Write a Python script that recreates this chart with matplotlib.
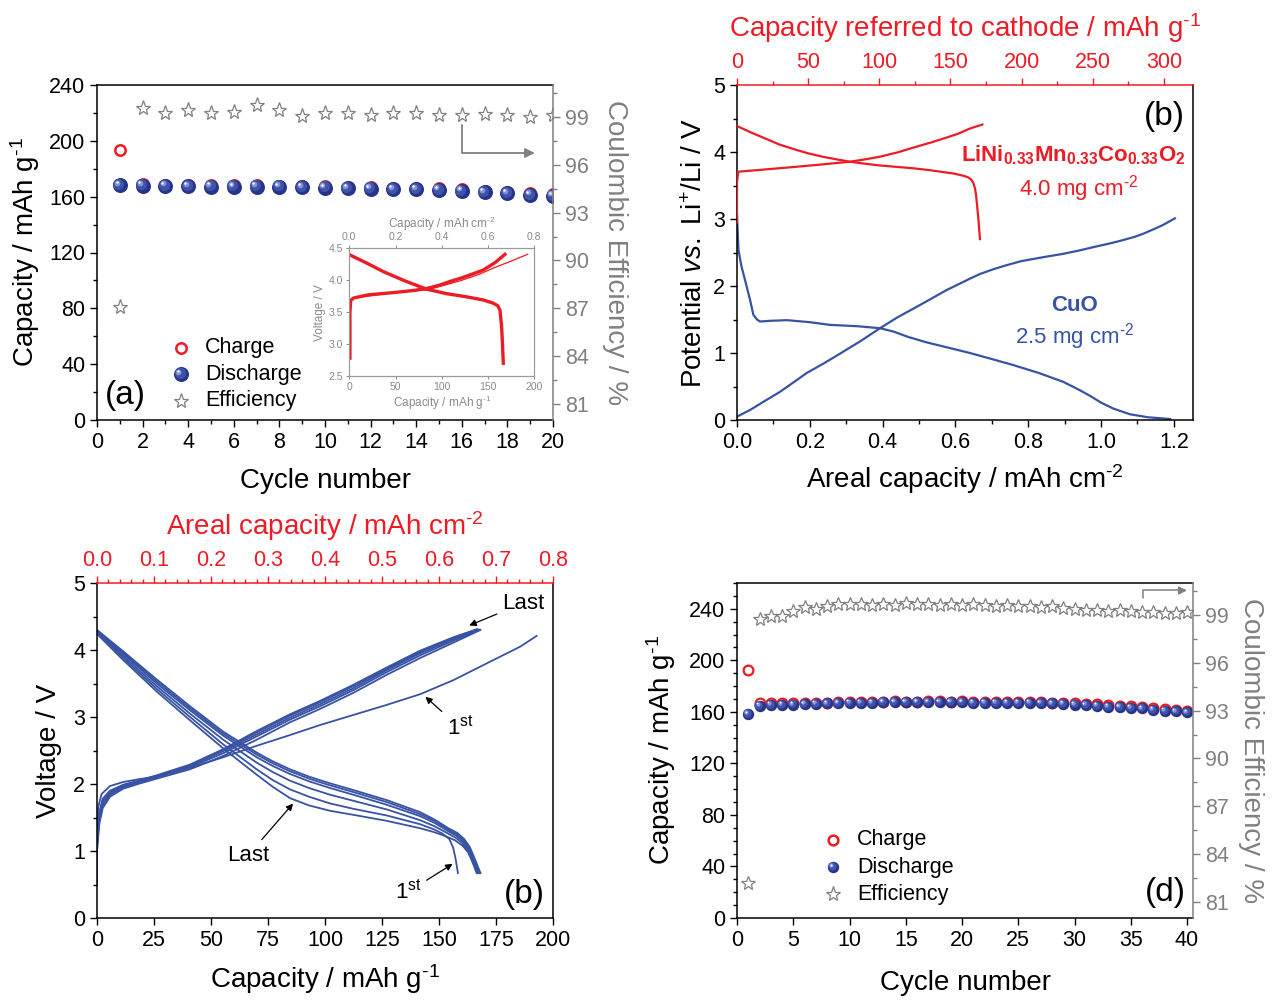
import matplotlib
matplotlib.use("Agg")
import matplotlib.pyplot as plt
from matplotlib.ticker import MultipleLocator
from matplotlib.transforms import offset_copy

plt.rcParams['font.family'] = ['Liberation Sans', 'DejaVu Sans']
plt.rcParams['mathtext.fontset'] = 'custom'
plt.rcParams['mathtext.rm'] = 'Liberation Sans'
plt.rcParams['mathtext.it'] = 'Liberation Sans:italic'
plt.rcParams['mathtext.bf'] = 'Liberation Sans:bold'

# ---------------- data ----------------
# (a) cycling of the NMC half cell, 20 cycles
cycles_a = list(range(1, 21))
charge_a = [193.2, 168.9, 168.7, 168.5, 168.2, 168.1, 168.1, 168.0, 167.7, 167.4,
            167.1, 166.8, 166.5, 166.3, 165.9, 165.2, 164.3, 163.5, 162.5, 161.6]
discharge_a = [168.1, 168.0, 167.7, 167.5, 167.2, 167.1, 167.2, 167.1, 166.7, 166.4,
               166.0, 165.7, 165.4, 165.2, 164.8, 164.1, 163.2, 162.4, 161.3, 160.5]
eff_a = [87.06, 99.58, 99.27, 99.42, 99.27, 99.33, 99.75, 99.42, 99.06, 99.27,
         99.23, 99.12, 99.23, 99.23, 99.12, 99.12, 99.17, 99.12, 99.0, 99.12]

# (a) inset: NMC voltage profiles
ins_ch_cap = [0.7, 0.7, 1.5, 4.3, 20, 47.6, 70, 83.6, 97, 108.8, 120, 130, 144.9, 158, 168.3]
ins_ch_v = [2.78, 3.5, 3.68, 3.72, 3.77, 3.806, 3.84, 3.87, 3.92, 3.98, 4.03, 4.08, 4.16, 4.28, 4.406]
ins_ch1_cap = [0.7, 0.7, 4.3, 47.6, 83.6, 100, 119.6, 140, 155.7, 175, 192.8]
ins_ch1_v = [2.78, 3.68, 3.72, 3.806, 3.85, 3.91, 3.99, 4.09, 4.19, 4.30, 4.406]
ins_dis_cap = [0.7, 20, 36.8, 60, 83.6, 105, 126.8, 145, 155.7, 160.5, 162.9, 164.7, 165.6, 166.5]
ins_dis_v = [4.396, 4.26, 4.135, 3.99, 3.86, 3.79, 3.74, 3.69, 3.64, 3.60, 3.53, 3.27, 3.0, 2.70]

# (b) electrode profiles
nmc_ch_cap = [0, 0, 0.9, 20, 41.9, 60, 79.4, 90, 100.5, 113, 126.2, 136, 145, 155, 163.7, 172.4]
nmc_ch_v = [2.95, 3.55, 3.706, 3.74, 3.78, 3.815, 3.855, 3.89, 3.93, 3.995, 4.08, 4.14, 4.2, 4.27, 4.35, 4.41]
nmc_dis_cap = [0, 10, 20, 30, 41.9, 50, 60, 70, 79.4, 90, 100, 112, 123.9, 135, 145, 152, 156.7,
               160, 162.5, 164.5, 166, 167.2, 168, 168.8, 169.8, 170.7]
nmc_dis_v = [4.388, 4.29, 4.20, 4.11, 4.03, 3.98, 3.93, 3.89, 3.855, 3.825, 3.80, 3.778, 3.757, 3.73,
             3.70, 3.68, 3.657, 3.64, 3.62, 3.59, 3.54, 3.46, 3.35, 3.18, 2.95, 2.70]
cuo_lith_cap = [0, 0.004, 0.012, 0.022, 0.036, 0.045, 0.055, 0.063, 0.09, 0.137, 0.2, 0.255, 0.33,
                0.393, 0.43, 0.47, 0.52, 0.58, 0.64, 0.70, 0.759, 0.83, 0.896, 0.94, 0.97, 1.0,
                1.034, 1.08, 1.13, 1.19]
cuo_lith_v = [3.06, 2.54, 2.30, 2.09, 1.79, 1.57, 1.50, 1.47, 1.48, 1.49, 1.46, 1.42, 1.40,
              1.37, 1.32, 1.24, 1.16, 1.08, 1.0, 0.91, 0.82, 0.70, 0.57, 0.45, 0.36, 0.26,
              0.17, 0.085, 0.04, 0.015]
cuo_delith_cap = [0, 0.036, 0.072, 0.118, 0.16, 0.191, 0.24, 0.283, 0.34, 0.393, 0.44, 0.494, 0.54,
                  0.576, 0.61, 0.64, 0.668, 0.704, 0.74, 0.78, 0.841, 0.896, 0.94, 0.979, 1.02,
                  1.05, 1.09, 1.116, 1.15, 1.17, 1.203]
cuo_delith_v = [0.05, 0.15, 0.27, 0.42, 0.58, 0.70, 0.85, 0.99, 1.18, 1.37, 1.53, 1.69, 1.83,
                1.94, 2.03, 2.11, 2.18, 2.25, 2.31, 2.37, 2.43, 2.48, 2.53, 2.58, 2.63,
                2.67, 2.73, 2.78, 2.86, 2.91, 3.01]

# (c) full cell profiles
dis_grid = [0, 11.5, 26.2, 40.8, 55.4, 70, 77, 84.6, 93, 102.2, 112.4, 127.1, 141.7, 148]
dis_curves = [
    ([4.30, 3.98, 3.56, 3.16, 2.78, 2.47, 2.34, 2.22, 2.11, 2.01, 1.91, 1.76, 1.58, 1.47],
     [154.1, 158, 161, 163.5, 165.5, 168.2], [1.34, 1.27, 1.18, 1.06, 0.90, 0.67]),
    ([4.29, 3.96, 3.53, 3.13, 2.75, 2.44, 2.31, 2.19, 2.08, 1.98, 1.88, 1.73, 1.55, 1.45],
     [154, 157.8, 160.8, 163.2, 165.2, 167.8], [1.32, 1.25, 1.16, 1.04, 0.88, 0.67]),
    ([4.28, 3.94, 3.50, 3.10, 2.72, 2.40, 2.27, 2.15, 2.04, 1.94, 1.84, 1.69, 1.52, 1.42],
     [153.8, 157.5, 160.5, 163, 165, 167.4], [1.30, 1.23, 1.14, 1.02, 0.86, 0.67]),
    ([4.27, 3.91, 3.46, 3.05, 2.66, 2.32, 2.18, 2.05, 1.94, 1.84, 1.75, 1.62, 1.46, 1.37],
     [153.5, 157.2, 160.2, 162.7, 164.8, 167], [1.27, 1.20, 1.12, 1.00, 0.85, 0.67]),
    ([4.26, 3.88, 3.42, 3.00, 2.59, 2.22, 2.06, 1.92, 1.81, 1.71, 1.63, 1.53, 1.40, 1.32],
     [151.5, 154.5, 156.2, 157.3, 158.3], [1.26, 1.18, 1.05, 0.88, 0.67]),
    ([4.24, 3.85, 3.38, 2.95, 2.53, 2.14, 1.96, 1.79, 1.68, 1.60, 1.54, 1.45, 1.34, 1.28],
     [153, 157, 160.3, 162.8, 164.6, 166.5], [1.22, 1.16, 1.08, 0.98, 0.84, 0.67]),
]
ch_grid = [0, 0, 1, 2.5, 5.7, 11.5, 18, 26.2, 40.8, 55.4, 70, 84.6, 97.8, 112.4, 127.1, 141.7, 156.3]
ch_curves = [
    ([0.50, 1.00, 1.40, 1.64, 1.81, 1.93, 2.00, 2.08, 2.22, 2.42, 2.66, 2.92, 3.12, 3.36, 3.63, 3.88, 4.11], 168.2, 4.30),
    ([0.55, 1.05, 1.45, 1.68, 1.84, 1.95, 2.02, 2.10, 2.25, 2.46, 2.71, 2.96, 3.16, 3.40, 3.67, 3.92, 4.14], 167.8, 4.30),
    ([0.60, 1.10, 1.50, 1.72, 1.86, 1.97, 2.03, 2.11, 2.27, 2.49, 2.74, 2.99, 3.19, 3.43, 3.70, 3.95, 4.16], 167.4, 4.30),
    ([0.65, 1.15, 1.54, 1.75, 1.88, 1.98, 2.04, 2.12, 2.28, 2.51, 2.77, 3.02, 3.22, 3.46, 3.72, 3.97, 4.18], 167.0, 4.31),
    ([0.70, 1.20, 1.58, 1.78, 1.90, 1.99, 2.05, 2.13, 2.29, 2.52, 2.79, 3.04, 3.24, 3.48, 3.74, 3.99, 4.19], 166.6, 4.31),
]
ch1_cap = [0, 0, 0.5, 2, 5.7, 11.5, 18, 26.2, 40.8, 55.4, 70, 84.6, 97.8, 112.4, 127, 141.7, 156.3, 170.9, 185.6, 192.8]
ch1_v = [0.49, 1.30, 1.65, 1.85, 1.97, 2.03, 2.07, 2.11, 2.24, 2.40, 2.57, 2.73, 2.88, 3.03, 3.18, 3.34, 3.55, 3.80, 4.05, 4.21]

# (d) full cell cycling, 40 cycles
cycles_d = list(range(1, 41))
discharge_d = [158.2, 164.9, 165.4, 165.4, 165.7, 166.0, 166.2, 166.5, 166.7, 167.0,
               167.2, 167.2, 167.5, 167.5, 167.5, 167.5, 167.5, 167.5, 167.5, 167.5,
               167.2, 167.2, 167.2, 167.2, 167.2, 167.0, 166.7, 166.5, 166.2, 165.7,
               165.2, 164.7, 164.1, 163.6, 163.1, 162.6, 161.8, 161.0, 160.3, 159.5]
charge_d = [192.6, 167.0, 167.0, 166.9, 166.9, 166.9, 167.0, 167.2, 167.3, 167.6,
            167.8, 167.8, 168.0, 168.1, 168.0, 168.0, 168.1, 168.1, 168.0, 168.1,
            167.8, 167.8, 167.9, 167.8, 167.9, 167.7, 167.5, 167.2, 167.1, 166.8,
            166.4, 165.9, 165.4, 164.8, 164.4, 163.9, 163.1, 162.4, 161.7, 160.8]
eff_d = [82.2, 98.73, 98.94, 98.94, 99.25, 99.5, 99.35, 99.56, 99.71, 99.67,
         99.67, 99.63, 99.67, 99.63, 99.75, 99.67, 99.67, 99.63, 99.67, 99.63,
         99.67, 99.63, 99.56, 99.63, 99.56, 99.56, 99.5, 99.56, 99.46, 99.35,
         99.29, 99.29, 99.25, 99.29, 99.25, 99.21, 99.21, 99.15, 99.15, 99.21]

# ---------------- styling ----------------
W, H = 1276, 1001
RED = '#ed1c24'
BLUE = '#3953a4'
GRAY = '#808080'
TICK_FS = 15.5
LAB_FS = 20
G1 = '$^{\\text{-1}}$'
CM2 = '$^{\\text{-2}}$'


def box(l, t, r, b):
    return [l / W, 1 - b / H, (r - l) / W, (b - t) / H]


def base_style(ax):
    for s in ax.spines.values():
        s.set_linewidth(1.1)
    ax.tick_params(which='both', direction='out', width=1.0, labelsize=TICK_FS, top=False, right=False)
    ax.tick_params(which='major', length=5)
    ax.tick_params(which='minor', length=3)


def red_top(ax_t):
    for s in ['left', 'right', 'bottom']:
        ax_t.spines[s].set_visible(False)
    ax_t.spines['top'].set_color(RED)
    ax_t.spines['top'].set_linewidth(1.1)
    ax_t.tick_params(which='both', direction='out', colors=RED, labelsize=TICK_FS, width=1.0)
    ax_t.tick_params(which='major', length=5)
    ax_t.tick_params(which='minor', length=3)


def balls(ax, x, y, ms, transform=None):
    fig = ax.figure
    base = transform if transform is not None else ax.transData
    layers = [(1.0, '#26348a', 0.0), (0.74, '#3f53aa', 0.09), (0.38, '#8593d2', 0.17), (0.16, 'white', 0.21)]
    for k, (f, c, off) in enumerate(layers):
        tr = offset_copy(base, fig=fig, x=-ms * off, y=ms * off, units='points')
        ax.plot(x, y, 'o', ms=ms * f, color=c, mec='none', ls='none', transform=tr,
                zorder=4 + k, clip_on=transform is None)


def cycle_panel(ax, ax2, pad):
    ax.spines['right'].set_visible(False)
    for s in ['left', 'top', 'bottom']:
        ax2.spines[s].set_visible(False)
    ax2.spines['right'].set_color(GRAY)
    ax2.spines['right'].set_linewidth(1.1)
    ax2.tick_params(axis='y', which='both', direction='out', colors=GRAY, labelsize=TICK_FS, width=1.0)
    ax2.tick_params(which='major', length=5)
    ax2.tick_params(which='minor', length=3)
    ax2.set_ylim(80, 101)
    ax2.set_yticks([81, 84, 87, 90, 93, 96, 99])
    ax2.yaxis.set_minor_locator(MultipleLocator(1.5))
    ax2.set_ylabel('Coulombic Efficiency / %', color=GRAY, fontsize=LAB_FS, rotation=270, labelpad=pad)


def manual_legend(ax, x_m, x_t, ys, ms_ball, ms_circ):
    ax.plot([x_m], [ys[0]], 'o', ms=ms_circ, mfc='none', mec=RED, mew=1.8, transform=ax.transAxes)
    balls(ax, [x_m], [ys[1]], ms_ball, transform=ax.transAxes)
    ax.plot([x_m], [ys[2]], '*', ms=11, mfc='none', mec=GRAY, mew=0.9, transform=ax.transAxes)
    for y, t in zip(ys, ['Charge', 'Discharge', 'Efficiency']):
        ax.text(x_t, y, t, transform=ax.transAxes, fontsize=15.5, va='center', ha='left')


fig = plt.figure(figsize=(12.76, 10.01), dpi=100)

# ---------------- (a) ----------------
ax_a = fig.add_axes(box(97, 85, 553, 420))
base_style(ax_a)
ax_a.set_xlim(0, 20)
ax_a.set_ylim(0, 240)
ax_a.xaxis.set_major_locator(MultipleLocator(2))
ax_a.xaxis.set_minor_locator(MultipleLocator(1))
ax_a.yaxis.set_major_locator(MultipleLocator(40))
ax_a.yaxis.set_minor_locator(MultipleLocator(20))
ax_a.set_xlabel('Cycle number', fontsize=LAB_FS, labelpad=11)
ax_a.set_ylabel('Capacity / mAh g' + G1, fontsize=LAB_FS, labelpad=5)
ax_a.plot(cycles_a, charge_a, 'o', ms=7.5, mfc='none', mec=RED, mew=1.8, zorder=3)
balls(ax_a, cycles_a, discharge_a, 10.8)
ax_a2 = ax_a.twinx()
cycle_panel(ax_a, ax_a2, 28)
ax_a2.plot(cycles_a, eff_a, '*', ms=11, mfc='none', mec=GRAY, mew=0.9)
ax_a.annotate('', xy=(19.2, 191.3), xytext=(16.0, 211.3),
              arrowprops=dict(arrowstyle='-|>', color=GRAY, lw=1.3, mutation_scale=14,
                              connectionstyle='angle,angleA=90,angleB=0,rad=0', shrinkA=0, shrinkB=0))
manual_legend(ax_a, 0.184, 0.237, [0.215, 0.137, 0.057], 10.8, 7.5)
ax_a.text(0.017, 0.072, '(a)', transform=ax_a.transAxes, fontsize=24, va='center', ha='left')

# inset
ins = fig.add_axes(box(349.3, 248.3, 534.3, 376))
ins.set_zorder(ax_a2.get_zorder() + 1)
ins_t = ins.twiny()
ins_t.set_zorder(ins.get_zorder() + 1)
for a in (ins, ins_t):
    for s in a.spines.values():
        s.set_color('#9a9a9a')
        s.set_linewidth(0.8)
    a.tick_params(which='both', direction='out', colors='#8a8a8a', labelsize=7.5, length=2.5, width=0.7, pad=2)
ins.set_xlim(0, 200)
ins.set_ylim(2.5, 4.5)
ins.xaxis.set_major_locator(MultipleLocator(50))
ins.yaxis.set_major_locator(MultipleLocator(0.5))
ins_t.set_xlim(0, 0.8)
ins_t.xaxis.set_major_locator(MultipleLocator(0.2))
ins.set_xlabel('Capacity / mAh g' + G1, fontsize=8.5, color='#8a8a8a', labelpad=1)
ins.set_ylabel('Voltage / V', fontsize=8.5, color='#8a8a8a', labelpad=2)
ins_t.set_xlabel('Capacity / mAh cm' + CM2, fontsize=8.5, color='#8a8a8a', labelpad=3)
ins.plot(ins_ch1_cap, ins_ch1_v, color=RED, lw=0.9)
ins.plot(ins_ch_cap, ins_ch_v, color=RED, lw=2.4)
ins.plot(ins_dis_cap, ins_dis_v, color=RED, lw=2.4)

# ---------------- (b) ----------------
ax_b = fig.add_axes(box(737, 85, 1193, 420))
base_style(ax_b)
ax_b.spines['top'].set_visible(False)
ax_b.set_xlim(0, 1.2527)
ax_b.set_ylim(0, 5)
ax_b.xaxis.set_major_locator(MultipleLocator(0.2))
ax_b.xaxis.set_minor_locator(MultipleLocator(0.1))
ax_b.yaxis.set_major_locator(MultipleLocator(1))
ax_b.yaxis.set_minor_locator(MultipleLocator(0.5))
ax_b.set_xlabel('Areal capacity / mAh cm' + CM2, fontsize=LAB_FS, labelpad=7)
ax_b.set_ylabel('Potential $\\mathit{vs.}$ Li$^{+}$/Li / V', fontsize=LAB_FS)
ax_b.plot(cuo_lith_cap, cuo_lith_v, color=BLUE, lw=1.6)
ax_b.plot(cuo_delith_cap, cuo_delith_v, color=BLUE, lw=1.6)
ax_bt = ax_b.twiny()
red_top(ax_bt)
ax_bt.set_xlim(0, 320.4)
ax_bt.xaxis.set_major_locator(MultipleLocator(50))
ax_bt.xaxis.set_minor_locator(MultipleLocator(25))
ax_bt.set_xlabel('Capacity referred to cathode / mAh g' + G1, fontsize=LAB_FS, color=RED, labelpad=11)
ax_bt.plot(nmc_ch_cap, nmc_ch_v, color=RED, lw=1.6)
ax_bt.plot(nmc_dis_cap, nmc_dis_v, color=RED, lw=1.6)
ax_b.text(0.7386, 0.791, '$\\mathbf{LiNi_{0.33}Mn_{0.33}Co_{0.33}O_2}$', transform=ax_b.transAxes,
          color=RED, fontsize=16, ha='center', va='center')
ax_b.text(0.749, 0.692, '4.0 mg cm' + CM2, transform=ax_b.transAxes, color=RED, fontsize=16,
          ha='center', va='center')
ax_b.text(0.741, 0.343, 'CuO', transform=ax_b.transAxes, color=BLUE, fontsize=16, fontweight='bold',
          ha='center', va='center')
ax_b.text(0.741, 0.249, '2.5 mg cm' + CM2, transform=ax_b.transAxes, color=BLUE, fontsize=16,
          ha='center', va='center')
ax_b.text(0.982, 0.906, '(b)', transform=ax_b.transAxes, fontsize=24, ha='right', va='center')

# ---------------- (c) ----------------
ax_c = fig.add_axes(box(97, 583, 553, 918))
base_style(ax_c)
ax_c.spines['top'].set_visible(False)
ax_c.set_xlim(0, 200)
ax_c.set_ylim(0, 5)
ax_c.xaxis.set_major_locator(MultipleLocator(25))
ax_c.yaxis.set_major_locator(MultipleLocator(1))
ax_c.yaxis.set_minor_locator(MultipleLocator(0.5))
ax_c.set_xlabel('Capacity / mAh g' + G1, fontsize=LAB_FS, labelpad=8)
ax_c.set_ylabel('Voltage / V', fontsize=LAB_FS, labelpad=8)
for v, tail_c, tail_v in dis_curves:
    ax_c.plot(dis_grid + tail_c, v + tail_v, color=BLUE, lw=1.3)
for v, end_c, end_v in ch_curves:
    ax_c.plot(ch_grid + [end_c], v + [end_v], color=BLUE, lw=1.3)
ax_c.plot(ch1_cap, ch1_v, color=BLUE, lw=1.3)
ax_ct = ax_c.twiny()
red_top(ax_ct)
ax_ct.set_xlim(0, 0.8)
ax_ct.xaxis.set_major_locator(MultipleLocator(0.1))
ax_ct.xaxis.set_minor_locator(MultipleLocator(0.02))
ax_ct.set_xlabel('Areal capacity / mAh cm' + CM2, fontsize=LAB_FS, color=RED, labelpad=11)
arr = dict(arrowstyle='-|>', color='k', lw=0.9, mutation_scale=10)
ax_c.annotate('Last', xy=(162.1, 4.35), xytext=(187, 4.70), fontsize=16, ha='center', va='center', arrowprops=arr)
ax_c.annotate('1$^{\\mathrm{st}}$', xy=(143.1, 3.33), xytext=(159.2, 2.84), fontsize=16, ha='center', va='center', arrowprops=arr)
ax_c.annotate('Last', xy=(86.8, 1.74), xytext=(66.4, 0.94), fontsize=16, ha='center', va='center', arrowprops=arr)
ax_c.annotate('1$^{\\mathrm{st}}$', xy=(157.0, 0.83), xytext=(136.5, 0.39), fontsize=16, ha='center', va='center', arrowprops=arr)
ax_c.text(0.982, 0.069, '(b)', transform=ax_c.transAxes, fontsize=24, ha='right', va='center')

# ---------------- (d) ----------------
ax_d = fig.add_axes(box(737, 583, 1193, 918))
base_style(ax_d)
ax_d.set_xlim(0, 40.53)
ax_d.set_ylim(0, 260)
ax_d.xaxis.set_major_locator(MultipleLocator(5))
ax_d.yaxis.set_major_locator(MultipleLocator(40))
ax_d.yaxis.set_minor_locator(MultipleLocator(10))
ax_d.set_xlabel('Cycle number', fontsize=LAB_FS, labelpad=14)
ax_d.set_ylabel('Capacity / mAh g' + G1, fontsize=LAB_FS, labelpad=8)
ax_d.plot(cycles_d, charge_d, 'o', ms=7, mfc='none', mec=RED, mew=1.6, zorder=3)
balls(ax_d, cycles_d, discharge_d, 8.2)
ax_d2 = ax_d.twinx()
cycle_panel(ax_d, ax_d2, 25)
ax_d2.plot(cycles_d, eff_d, '*', ms=10, mfc='none', mec=GRAY, mew=0.9)
ax_d.annotate('', xy=(40.0, 254.2), xytext=(36.1, 248.3),
              arrowprops=dict(arrowstyle='-|>', color=GRAY, lw=1.1, mutation_scale=12,
                              connectionstyle='angle,angleA=90,angleB=0,rad=0', shrinkA=0, shrinkB=0))
manual_legend(ax_d, 0.2105, 0.263, [0.233, 0.152, 0.0716], 8.2, 7)
ax_d.text(0.985, 0.075, '(d)', transform=ax_d.transAxes, fontsize=24, ha='right', va='center')

fig.savefig('out.png', dpi=100)
